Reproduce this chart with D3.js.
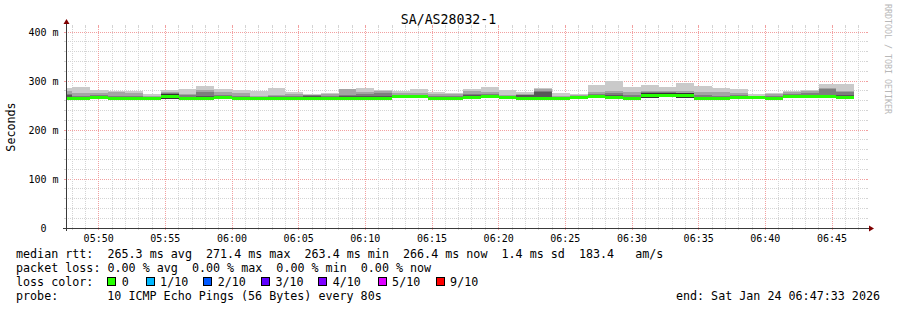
<!DOCTYPE html>
<html><head><meta charset="utf-8">
<script src="https://cdn.jsdelivr.net/npm/d3@7"></script>
<style>
body{margin:0;background:#fff}
svg text{font-family:"DejaVu Sans Mono",monospace;white-space:pre}
</style></head><body>
<script>
// ---------- data ----------
const chartTitle = "SA/AS28032-1";
const yAxisTitle = "Seconds";
const watermark = "RRDTOOL / TOBI OETIKER";
const startTime = "2026-01-24 05:47:33";
const endTime = "2026-01-24 06:47:33";
const firstStepEnd = "2026-01-24 05:48:00";
const stepSeconds = 80;

const yTicks = [0, 100, 200, 300, 400];
const yTickLabels = ["0", "100 m", "200 m", "300 m", "400 m"];

// sorted pings per 80 s step (ms), 10 pings: ping1 = fastest ... ping10 = slowest
const median = [264.3,263.6,266.0,264.2,264.2,264.5,268.4,263.6,265.0,266.0,264.2,264.2,264.0,264.2,264.2,264.0,264.2,264.0,264.2,268.0,268.0,263.6,264.0,266.0,268.0,267.0,264.0,265.0,264.0,266.0,268.0,266.0,264.0,270.6,271.4,270.0,265.0,263.6,266.0,266.0,264.0,268.0,268.0,268.0,266.4];
const ping10 = [285.7,288.4,281.6,279.6,279.0,273.5,281.6,283.7,289.8,283.7,281.6,279.6,285.7,277.6,273.5,275.5,284.0,285.7,281.6,279.6,283.7,277.6,275.5,283.7,288.4,281.6,277.6,285.7,275.5,273.5,291.8,300.0,288.4,291.8,287.8,296.0,289.8,285.7,283.7,273.5,275.5,279.6,281.6,293.9,293.9];
const ping9 = [280.2,276.1,274.9,277.6,276.5,269.4,277.6,273.5,282.0,277.6,276.1,269.4,271.4,273.0,272.4,274.0,283.0,277.6,279.6,275.5,276.1,273.5,274.0,280.2,277.6,271.4,273.5,284.0,269.4,271.4,277.6,279.6,277.6,279.6,279.6,279.6,277.6,277.6,275.5,269.0,273.5,278.5,280.5,285.0,279.6];
const ping8 = [273.0,270.0,270.8,270.0,269.4,268.0,275.0,271.4,277.6,271.4,270.4,267.5,268.5,269.4,271.4,269.4,271.4,273.5,274.9,272.0,272.4,269.4,269.4,273.0,273.5,270.0,272.4,280.0,268.0,269.5,273.0,275.0,272.0,277.5,277.6,276.5,271.0,270.0,271.4,268.0,269.4,273.5,275.5,283.7,277.0];
const ping7 = [271.0,267.5,269.5,268.0,267.6,267.0,274.0,268.0,270.0,269.0,268.0,266.5,267.0,267.5,270.0,267.5,269.0,269.0,269.0,271.0,270.5,267.0,267.0,271.4,271.0,269.0,271.4,277.6,267.0,268.5,271.0,272.0,268.0,276.5,276.5,275.0,268.0,267.0,270.0,267.5,267.0,271.0,271.5,272.0,271.4];
const ping6 = [265.3,264.6,267.0,265.2,265.2,265.5,273.3,264.6,266.0,267.0,265.2,265.2,265.0,265.2,265.2,265.0,265.2,265.0,265.2,269.5,269.0,264.6,265.0,267.0,269.0,268.0,266.0,268.0,265.0,267.0,269.0,269.0,265.0,275.9,275.5,274.5,266.0,264.6,267.0,267.0,265.0,269.0,269.0,269.0,268.0];
const ping5 = [263.3,262.6,265.0,263.2,263.2,263.5,263.5,262.6,264.0,265.0,263.2,263.2,263.0,263.2,263.2,263.0,263.2,263.0,263.2,266.5,267.0,262.6,263.0,265.0,267.0,266.0,262.0,262.0,263.0,265.0,267.0,263.0,263.0,265.3,267.3,265.5,264.0,262.6,265.0,265.0,263.0,267.0,267.0,267.0,264.8];
const ping4 = [263.0,262.3,264.7,262.9,262.9,263.2,263.4,262.3,263.7,264.7,262.9,262.9,262.7,262.9,262.9,262.7,262.9,262.7,262.9,266.2,266.7,262.3,262.7,264.7,266.7,265.7,261.7,261.7,262.7,264.7,266.7,262.9,262.7,265.2,267.2,265.4,263.7,262.3,264.7,264.7,262.7,266.7,266.7,266.7,264.5];
const ping3 = [262.7,262.0,264.4,262.6,262.6,262.9,263.3,262.0,263.4,264.4,262.6,262.6,262.4,262.6,262.6,262.4,262.6,262.4,262.6,265.9,266.4,262.0,262.4,264.4,266.4,265.4,261.4,261.4,262.4,264.4,266.4,262.8,262.4,265.1,267.1,265.3,263.4,262.0,264.4,264.4,262.4,266.4,266.4,266.4,264.2];
const ping2 = [262.4,261.7,264.1,262.3,262.3,262.6,263.2,261.7,263.1,264.1,262.3,262.3,262.1,262.3,262.3,262.1,262.3,262.1,262.3,265.6,266.1,261.7,262.1,264.1,266.1,265.1,261.1,261.1,262.1,264.1,266.1,262.7,262.1,265.0,267.0,265.2,263.1,261.7,264.1,264.1,262.1,266.1,266.1,266.1,263.9];
const ping1 = [262.1,261.4,263.8,262.0,262.0,262.3,263.1,261.4,262.8,263.8,262.0,262.0,261.8,262.0,262.0,261.8,262.0,261.8,262.0,265.3,265.8,261.4,261.8,263.8,265.8,264.8,260.8,260.8,261.8,263.8,265.8,262.6,261.8,264.9,266.9,265.1,262.8,261.4,263.8,263.8,261.8,265.8,265.8,265.8,263.6];
const lossCount = [0,0,0,0,0,0,0,0,0,0,0,0,0,0,0,0,0,0,0,0,0,0,0,0,0,0,0,0,0,0,0,0,0,0,0,0,0,0,0,0,0,0,0,0,0];

const lossLevels = [0, 1, 2, 3, 4, 5, 9];
const lossLabels = ["0", "1/10", "2/10", "3/10", "4/10", "5/10", "9/10"];
const lossColors = ["#26ff00", "#00b8ff", "#0059ff", "#5e00ff", "#7e00ff", "#dd00ff", "#ff0000"];

const rttLine = "median rtt:  265.3 ms avg  271.4 ms max  263.4 ms min  266.4 ms now  1.4 ms sd  183.4   am/s";
const lossLine = "packet loss: 0.00 % avg  0.00 % max  0.00 % min  0.00 % now";
const lossColorLabel = "loss color:";
const probeLabel = "probe:";
const probeText = "10 ICMP Echo Pings (56 Bytes) every 80s";
const endText = "end: Sat Jan 24 06:47:33 2026";

// ---------- layout ----------
const legendBoxX = [107.3, 145.7, 203.3, 261, 318.3, 377.7, 435.7];

// ---------- drawing ----------
const W = 897, H = 310;
const parse = d3.timeParse("%Y-%m-%d %H:%M:%S");
const t0 = parse(startTime), t1 = parse(endTime), tFirst = parse(firstStepEnd);
const X0 = 66, X1 = 866, Y0 = 228, YTOP = 27;
const x = d3.scaleTime().domain([t0, t1]).range([X0, X1]);
const y = d3.scaleLinear().domain([0, 400]).range([228, 32]);

const svg = d3.select("body").append("svg").attr("width", W).attr("height", H)
  .style("display", "block");
svg.append("rect").attr("width", W).attr("height", H).attr("fill", "#fff");

const px = v => Math.floor(v) + 0.5;
const gMinor = "#d4d4d4", gMajor = "#f2a0a0";

// grid
const grid = svg.append("g");
const hMinor = d3.range(0, 401, 20);
hMinor.forEach(v => {
  const major = v % 100 === 0;
  const yy = px(y(v));
  grid.append("line").attr("x1", X0 - 2).attr("x2", X0).attr("y1", yy).attr("y2", yy)
    .attr("stroke", major ? gMajor : gMinor);
  grid.append("line").attr("x1", X1).attr("x2", X1 + 2).attr("y1", yy).attr("y2", yy)
    .attr("stroke", major ? gMajor : gMinor);
  if (v === 0) return;
  grid.append("line").attr("x1", X0).attr("x2", X1).attr("y1", yy).attr("y2", yy)
    .attr("stroke", major ? gMajor : gMinor).attr("stroke-dasharray", "1,1");
});
const minutes = d3.timeMinute.every(1).range(t0, t1);
minutes.forEach(t => {
  const major = t.getMinutes() % 5 === 0;
  const xx = px(x(t));
  grid.append("line").attr("x1", xx).attr("x2", xx).attr("y1", YTOP).attr("y2", Y0)
    .attr("stroke", major ? gMajor : gMinor).attr("stroke-dasharray", "1,1");
  grid.append("line").attr("x1", xx).attr("x2", xx).attr("y1", Y0).attr("y2", Y0 + 2)
    .attr("stroke", major ? gMajor : gMinor);
  grid.append("line").attr("x1", xx).attr("x2", xx).attr("y1", YTOP - 2).attr("y2", YTOP)
    .attr("stroke", major ? gMajor : gMinor);
});

// smoke
const pings = [ping1, ping2, ping3, ping4, ping5, ping6, ping7, ping8, ping9, ping10];
const half = 5;
const steps = median.map((m, i) => {
  const tEnd = new Date(tFirst.getTime() + i * stepSeconds * 1000);
  const tStart = new Date(tEnd.getTime() - stepSeconds * 1000);
  return {i, x0: Math.max(X0, Math.round(x(tStart))), x1: Math.round(x(tEnd))};
});
const smoke = svg.append("g").attr("shape-rendering", "crispEdges");
for (let k = 1; k <= half; k++) {
  const c = Math.floor(190 / half * (half - k)) + 50;
  const col = d3.rgb(c, c, c).formatHex();
  const lo = pings[k - 1], hi = pings[10 - k];
  smoke.selectAll(null).data(steps).enter().append("rect")
    .attr("x", d => d.x0).attr("width", d => d.x1 - d.x0)
    .attr("y", d => Math.round(y(hi[d.i])))
    .attr("height", d => Math.max(0, Math.round(y(lo[d.i])) - Math.round(y(hi[d.i]))))
    .attr("fill", col);
}
smoke.selectAll(null).data(steps).enter().append("rect")
  .attr("x", d => d.x0).attr("width", d => d.x1 - d.x0)
  .attr("y", d => Math.round(y(median[d.i]) - 1.5)).attr("height", 3)
  .attr("fill", d => {
    const l = lossCount[d.i];
    let idx = 0;
    lossLevels.forEach((lv, j) => { if (l >= lv) idx = j; });
    return lossColors[idx];
  });

// axes
const axisCol = "#3a3a3a", arrowCol = "#7f0000";
svg.append("line").attr("x1", X0 - 3).attr("x2", X1 + 4).attr("y1", Y0 + 0.5).attr("y2", Y0 + 0.5)
  .attr("stroke", axisCol);
svg.append("line").attr("x1", X0 + 0.5).attr("x2", X0 + 0.5).attr("y1", YTOP - 4).attr("y2", Y0 + 3)
  .attr("stroke", axisCol);
svg.append("path").attr("d", `M${X1 + 3},${Y0 - 2.5} L${X1 + 8},${Y0 + 0.5} L${X1 + 3},${Y0 + 3.5} Z`).attr("fill", arrowCol);
svg.append("path").attr("d", `M${X0 - 2.5},${YTOP - 3} L${X0 + 0.5},${YTOP - 8} L${X0 + 3.5},${YTOP - 3} Z`).attr("fill", arrowCol);

const axisFont = 10;
yTicks.forEach((v, i) => {
  svg.append("text").attr("x", v === 0 ? 46.5 : 58.5).attr("y", y(v) + 3.5)
    .attr("text-anchor", "end").attr("font-size", axisFont).attr("fill", "#000").text(yTickLabels[i]);
});
const fmt = d3.timeFormat("%H:%M");
d3.timeMinute.every(5).range(t0, t1).forEach(t => {
  svg.append("text").attr("x", x(t)).attr("y", 241.5).attr("text-anchor", "middle")
    .attr("font-size", axisFont).attr("fill", "#000").text(fmt(t));
});

svg.append("text").attr("x", W / 2).attr("y", 24).attr("text-anchor", "middle")
  .attr("font-size", 13.2).attr("fill", "#000").text(chartTitle);
svg.append("text").attr("transform", "translate(15,127) rotate(-90)").attr("text-anchor", "middle")
  .attr("font-size", 11.7).attr("fill", "#000").text(yAxisTitle);
svg.append("text").attr("transform", "translate(885,4) rotate(90)").attr("text-anchor", "start")
  .attr("font-size", 8.3).attr("fill", "#b8b8b8").text(watermark);

// legend
const lf = 11.7;
const lx = 16;
svg.append("text").attr("x", lx).attr("y", 258).attr("font-size", lf).text(rttLine);
svg.append("text").attr("x", lx).attr("y", 272).attr("font-size", lf).text(lossLine);
svg.append("text").attr("x", lx).attr("y", 286).attr("font-size", lf).text(lossColorLabel);
lossLabels.forEach((lab, i) => {
  const bx = legendBoxX[i];
  svg.append("rect").attr("x", Math.round(bx) + 0.5).attr("y", 277.5).attr("width", 8).attr("height", 8)
    .attr("fill", lossColors[i]).attr("stroke", "#000").attr("stroke-width", 1);
  svg.append("text").attr("x", bx + 14.4).attr("y", 286).attr("font-size", lf).text(lab);
});
svg.append("text").attr("x", lx).attr("y", 300).attr("font-size", lf).text(probeLabel);
svg.append("text").attr("x", 107.3).attr("y", 300).attr("font-size", lf).text(probeText);
svg.append("text").attr("x", 880).attr("y", 300).attr("text-anchor", "end").attr("font-size", lf).text(endText);
</script>
</body></html>
